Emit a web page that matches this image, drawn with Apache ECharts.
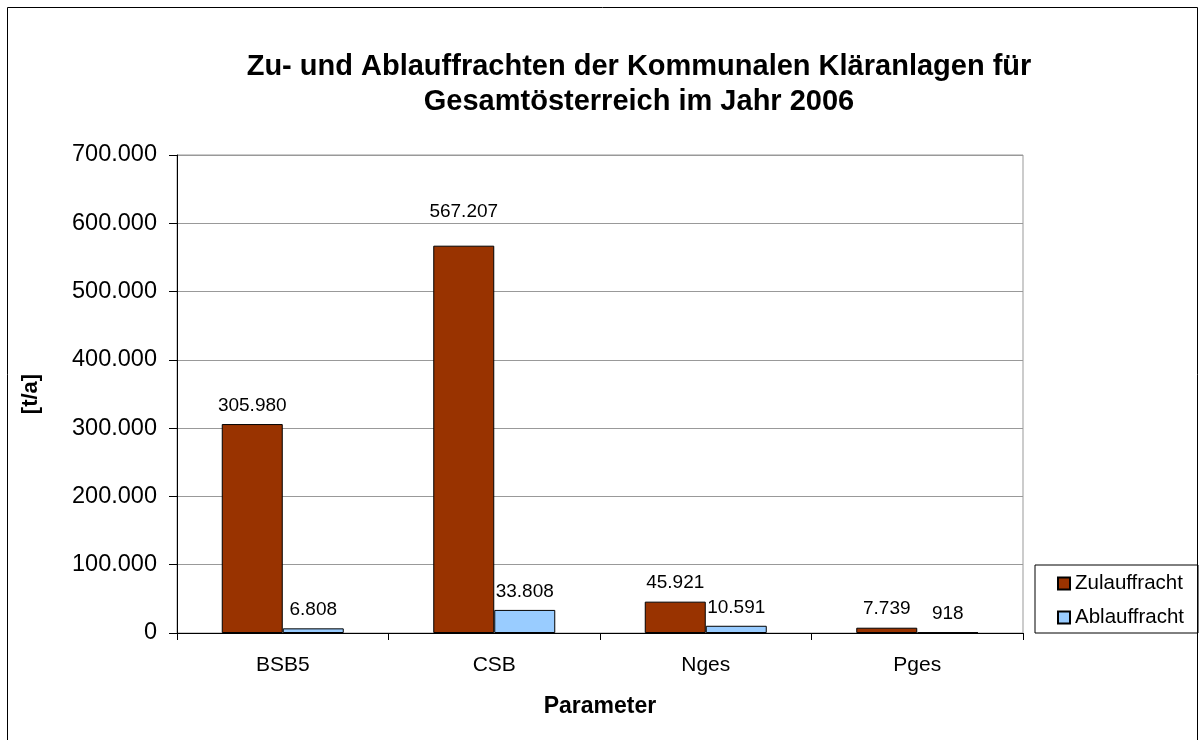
<!DOCTYPE html>
<html>
<head>
<meta charset="utf-8">
<title>Zu- und Ablauffrachten 2006</title>
<script src="https://cdn.jsdelivr.net/npm/echarts@6/dist/echarts.min.js"></script>
<style>
  html, body { margin: 0; padding: 0; background: #fff; }
  #chart { width: 1200px; height: 740px; }
</style>
</head>
<body>
<div id="chart"></div>
<script>
// chart data
const categories = ['BSB5', 'CSB', 'Nges', 'Pges'];
const zulauffracht = [305980, 567207, 45921, 7739];
const ablauffracht = [6808, 33808, 10591, 918];
const seriesNames = ['Zulauffracht', 'Ablauffracht'];

const FONT = '"Liberation Sans", Arial, sans-serif';

// german thousands separator
function fmt(v) {
  return String(v).replace(/\B(?=(\d{3})+(?!\d))/g, '.');
}

const chart = echarts.init(document.getElementById('chart'));

const labelStyle = {
  show: true,
  position: 'top',
  distance: 9,
  color: '#000',
  fontFamily: FONT,
  fontSize: 19,
  formatter: (p) => fmt(p.value)
};

// the CSB label sits a bit higher in the original
const zuData = zulauffracht.map((v, i) =>
  i === 1 ? { value: v, label: { distance: 24 } } : v
);

chart.setOption({
  backgroundColor: '#fff',
  animation: false,
  textStyle: { fontFamily: FONT },
  title: {
    text: 'Zu- und Ablauffrachten der Kommunalen Kläranlagen für\nGesamtösterreich im Jahr 2006',
    left: 634,
    top: 44,
    textAlign: 'center',
    textStyle: {
      fontFamily: FONT,
      fontSize: 29,
      fontWeight: 'bold',
      lineHeight: 35,
      color: '#000'
    }
  },
  legend: {
    orient: 'vertical',
    left: 1035,
    top: 565,
    padding: [8, 14, 5, 22],
    itemGap: 13,
    itemWidth: 12,
    itemHeight: 12,
    borderColor: '#000',
    borderWidth: 1,
    icon: 'rect',
    data: seriesNames,
    textStyle: { fontFamily: FONT, fontSize: 20.5, color: '#000' }
  },
  grid: {
    left: 177,
    right: 177,
    top: 155,
    bottom: 107,
    show: true,
    borderColor: '#999',
    borderWidth: 1
  },
  xAxis: {
    type: 'category',
    data: categories,
    name: 'Parameter',
    nameLocation: 'middle',
    nameGap: 62,
    nameTextStyle: { fontFamily: FONT, fontSize: 23, fontWeight: 'bold', color: '#000' },
    axisLine: { lineStyle: { color: '#000', width: 1 } },
    axisTick: { show: true, length: 7, interval: 0, lineStyle: { color: '#000' } },
    axisLabel: { margin: 22, fontFamily: FONT, fontSize: 21, color: '#000' }
  },
  yAxis: {
    type: 'value',
    min: 0,
    max: 700000,
    interval: 100000,
    name: '[t/a]',
    nameLocation: 'middle',
    nameRotate: 90,
    nameGap: 135,
    nameTextStyle: { fontFamily: FONT, fontSize: 22, fontWeight: 'bold', color: '#000' },
    axisLine: { show: true, lineStyle: { color: '#000', width: 1 } },
    axisTick: { show: true, length: 8, lineStyle: { color: '#000' } },
    axisLabel: { margin: 20, fontFamily: FONT, fontSize: 23.5, color: '#000', formatter: fmt },
    splitLine: { show: true, lineStyle: { color: '#999', width: 1 } }
  },
  series: [
    {
      name: seriesNames[0],
      type: 'bar',
      data: zuData,
      barWidth: 61,
      barGap: '0%',
      itemStyle: { color: '#993300', borderColor: '#000', borderWidth: 1 },
      label: labelStyle
    },
    {
      name: seriesNames[1],
      type: 'bar',
      data: ablauffracht,
      barWidth: 61,
      barGap: '0%',
      itemStyle: { color: '#99CCFF', borderColor: '#000', borderWidth: 1 },
      label: labelStyle
    }
  ],
  // outer chart frame
  graphic: [
    {
      type: 'rect',
      silent: true,
      shape: { x: 7.5, y: 7.5, width: 1190, height: 800 },
      style: { fill: 'none', stroke: '#000', lineWidth: 1 }
    }
  ]
});
</script>
</body>
</html>
